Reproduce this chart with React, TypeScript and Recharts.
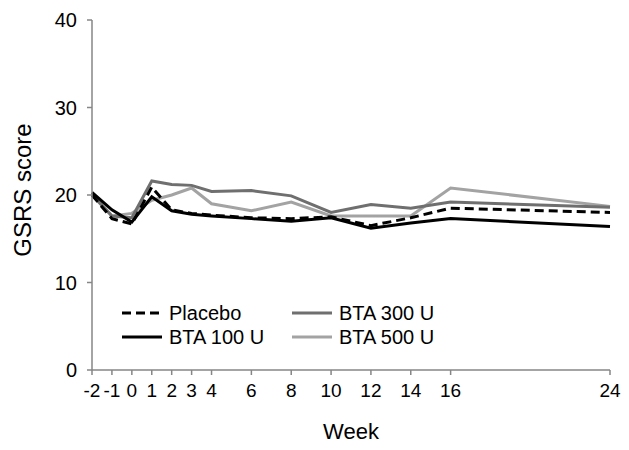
import React from 'react';
import { LineChart, Line, XAxis, YAxis, Legend } from 'recharts';

const weeks = [-2, -1, 0, 1, 2, 3, 4, 6, 8, 10, 12, 14, 16, 24];
const placebo = [20.0, 17.3, 16.7, 20.9, 18.3, 17.9, 17.7, 17.4, 17.3, 17.5, 16.5, 17.4, 18.5, 18.0];
const bta100 = [20.3, 18.3, 16.9, 19.8, 18.2, 17.8, 17.6, 17.3, 17.0, 17.4, 16.2, 16.8, 17.3, 16.4];
const bta300 = [20.0, 17.6, 17.4, 21.6, 21.2, 21.1, 20.4, 20.5, 19.9, 18.0, 18.9, 18.5, 19.2, 18.6];
const bta500 = [20.2, 17.6, 17.9, 19.4, 20.0, 20.8, 19.0, 18.2, 19.2, 17.6, 17.6, 17.6, 20.8, 18.7];
const yTicks = [0, 10, 20, 30, 40];

const data = weeks.map((w, i) => ({
  week: w,
  placebo: placebo[i],
  bta100: bta100[i],
  bta300: bta300[i],
  bta500: bta500[i],
}));

const FONT = '"Liberation Sans", Arial, sans-serif';

const legendItems = [
  { name: 'Placebo', color: '#000000', dash: '9 5' },
  { name: 'BTA 300 U', color: '#6f6f6f', dash: undefined },
  { name: 'BTA 100 U', color: '#000000', dash: undefined },
  { name: 'BTA 500 U', color: '#a3a3a3', dash: undefined },
];

const renderLegend = () => (
  <div style={{ display: 'grid', gridTemplateColumns: '170px 170px', rowGap: 0, fontFamily: FONT, fontSize: 20, color: '#000' }}>
    {legendItems.map((it) => (
      <div key={it.name} style={{ display: 'flex', alignItems: 'center', height: 24 }}>
        <svg width={40} height={10} style={{ marginRight: 7 }}>
          <line x1={0} y1={5} x2={40} y2={5} stroke={it.color} strokeWidth={3} strokeDasharray={it.dash} />
        </svg>
        <span>{it.name}</span>
      </div>
    ))}
  </div>
);

export default function App() {
  return (
    <div style={{ position: 'absolute', left: 0, top: 0, background: '#fff' }}>
      <LineChart width={629} height={450} data={data} margin={{ top: 20, right: 19, bottom: 0, left: 0 }}>
        <XAxis
          dataKey="week"
          type="number"
          domain={[-2, 24]}
          ticks={weeks}
          interval={0}
          height={80}
          stroke="#868686"
          strokeWidth={1.5}
          tickSize={5}
          tickMargin={9}
          tick={{ fill: '#000', fontSize: 19, fontFamily: FONT }}
          label={{ value: 'Week', position: 'insideBottom', offset: 11, fill: '#000', fontSize: 22, fontFamily: FONT }}
        />
        <YAxis
          type="number"
          domain={[0, 40]}
          ticks={yTicks}
          interval={0}
          width={92}
          stroke="#868686"
          strokeWidth={1.5}
          tickSize={5}
          tickMargin={10}
          tick={{ fill: '#000', fontSize: 20, fontFamily: FONT }}
          label={{
            content: (props: any) => {
              const vb = props.viewBox;
              const cx = vb.x + 22;
              const cy = vb.y + vb.height / 2 - 5;
              return (
                <text x={cx} y={cy} transform={`rotate(-90 ${cx} ${cy})`} textAnchor="middle" dominantBaseline="central" fill="#000" fontSize={24} fontFamily={FONT}>
                  GSRS score
                </text>
              );
            },
          }}
        />
        <Legend
          layout="horizontal"
          verticalAlign="middle"
          align="center"
          content={renderLegend}
          wrapperStyle={{ position: 'absolute', left: 122, top: 301, width: 360, height: 48 }}
        />
        <Line type="linear" dataKey="bta500" stroke="#a3a3a3" strokeWidth={3} dot={false} isAnimationActive={false} />
        <Line type="linear" dataKey="bta300" stroke="#6f6f6f" strokeWidth={3} dot={false} isAnimationActive={false} />
        <Line type="linear" dataKey="bta100" stroke="#000000" strokeWidth={3} dot={false} isAnimationActive={false} />
        <Line type="linear" dataKey="placebo" stroke="#000000" strokeWidth={3} strokeDasharray="9 5" dot={false} isAnimationActive={false} />
      </LineChart>
    </div>
  );
}
